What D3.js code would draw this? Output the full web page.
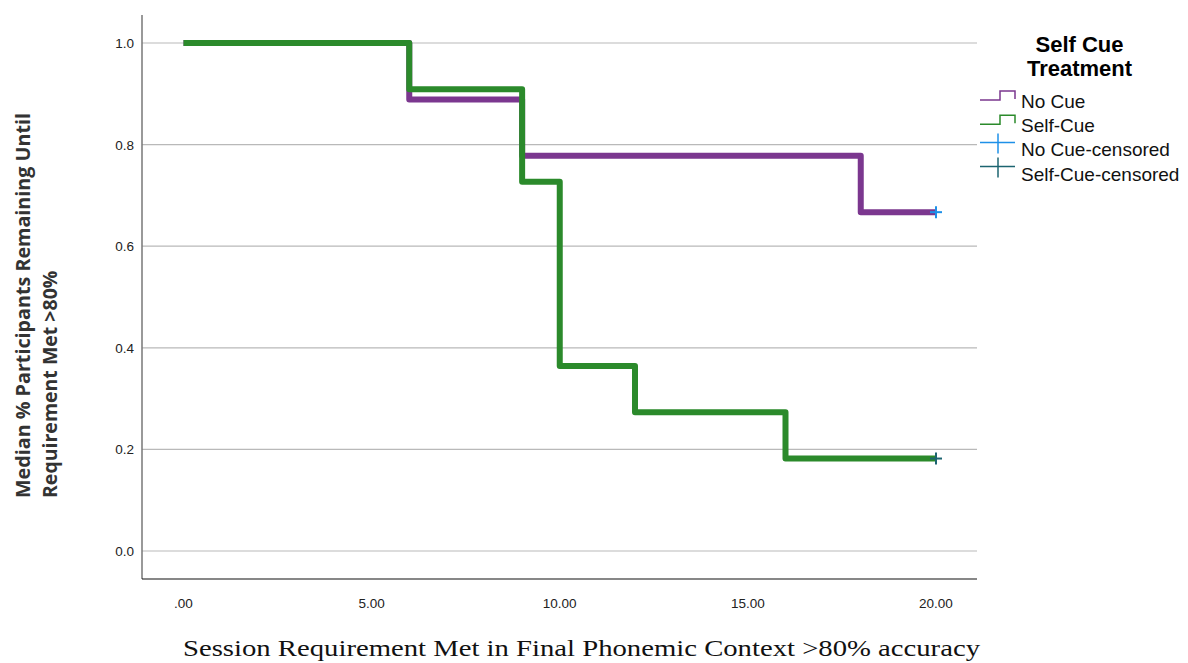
<!DOCTYPE html>
<html>
<head>
<meta charset="utf-8">
<script src="https://cdn.jsdelivr.net/npm/d3@7"></script>
<style>
  body { margin: 0; background: #fff; }
  svg { display: block; }
</style>
</head>
<body>
<div id="chart"></div>
<script>
// step survival curves (time, proportion remaining)
const noCueTimes = [0, 6, 9, 18, 20];
const noCueValues = [1.0, 0.889, 0.778, 0.667, 0.667];
const selfCueTimes = [0, 6, 9, 10, 12, 16, 20];
const selfCueValues = [1.0, 0.909, 0.727, 0.364, 0.273, 0.182, 0.182];
const censored = [
  { group: "No Cue", time: 20, value: 0.667 },
  { group: "Self-Cue", time: 20, value: 0.182 }
];
const xTicks = [0, 5, 10, 15, 20];
const yTicks = [0, 0.2, 0.4, 0.6, 0.8, 1.0];
const legendLabels = ["No Cue", "Self-Cue", "No Cue-censored", "Self-Cue-censored"];

const colors = {
  "No Cue": "#7b378f",
  "Self-Cue": "#2b8a2b",
  "No Cue-censored": "#1e90e8",
  "Self-Cue-censored": "#1c6470"
};

const W = 1188, H = 663;
const svg = d3.select("#chart").append("svg")
  .attr("width", W)
  .attr("height", H);

const x = d3.scaleLinear().domain([0, 20]).range([183.5, 936]);
const y = d3.scaleLinear().domain([0, 1]).range([551, 43]);
const plotLeft = 142, plotRight = 977, plotTop = 15, plotBottom = 579;

// gridlines
svg.append("g")
  .selectAll("line")
  .data(yTicks)
  .join("line")
  .attr("x1", plotLeft).attr("x2", plotRight)
  .attr("y1", d => y(d)).attr("y2", d => y(d))
  .attr("stroke", "#b9b9b9")
  .attr("stroke-width", 1.2);

// axes lines
svg.append("line")
  .attr("x1", plotLeft).attr("x2", plotLeft).attr("y1", plotTop).attr("y2", plotBottom)
  .attr("stroke", "#777").attr("stroke-width", 1.5);
svg.append("line")
  .attr("x1", plotLeft).attr("x2", plotRight).attr("y1", plotBottom).attr("y2", plotBottom)
  .attr("stroke", "#111").attr("stroke-width", 1.2);

// tick labels
svg.append("g")
  .selectAll("text")
  .data(yTicks)
  .join("text")
  .attr("x", 134)
  .attr("y", d => y(d) + 5)
  .attr("text-anchor", "end")
  .style("font-family", "Liberation Sans, Arial, sans-serif")
  .style("font-size", "13.5px")
  .attr("fill", "#222")
  .text(d => d3.format(".1f")(d));

svg.append("g")
  .selectAll("text")
  .data(xTicks)
  .join("text")
  .attr("x", d => x(d))
  .attr("y", 608)
  .attr("text-anchor", "middle")
  .style("font-family", "Liberation Sans, Arial, sans-serif")
  .style("font-size", "13.5px")
  .attr("fill", "#222")
  .text(d => d === 0 ? ".00" : d3.format(".2f")(d));

// step lines
const line = d3.line()
  .x(d => x(d[0]))
  .y(d => y(d[1]))
  .curve(d3.curveStepAfter);

const series = [
  { name: "No Cue", pts: d3.zip(noCueTimes, noCueValues) },
  { name: "Self-Cue", pts: d3.zip(selfCueTimes, selfCueValues) }
];

svg.append("g")
  .selectAll("path")
  .data(series)
  .join("path")
  .attr("d", d => line(d.pts))
  .attr("fill", "none")
  .attr("stroke", d => colors[d.name])
  .attr("stroke-width", 6)
  .attr("stroke-linejoin", "round");

// censored marks
const cg = svg.append("g");
censored.forEach(c => {
  const cx = x(c.time), cy = y(c.value);
  const col = colors[c.group + "-censored"];
  cg.append("line").attr("x1", cx - 6).attr("x2", cx + 6).attr("y1", cy).attr("y2", cy)
    .attr("stroke", col).attr("stroke-width", 2);
  cg.append("line").attr("x1", cx).attr("x2", cx).attr("y1", cy - 6).attr("y2", cy + 6)
    .attr("stroke", col).attr("stroke-width", 2);
});

// axis titles
const yLab = svg.append("text")
  .attr("transform", "translate(0,498) rotate(-90)")
  .attr("text-anchor", "start")
  .style("font-family", "Open Sans, DejaVu Sans, sans-serif")
  .style("font-weight", "bold")
  .style("font-size", "19.5px")
  .attr("fill", "#333");
yLab.append("tspan").attr("x", 0).attr("y", 30)
  .attr("textLength", 385).attr("lengthAdjust", "spacingAndGlyphs")
  .text("Median % Participants Remaining Until");
yLab.append("tspan").attr("x", 0).attr("y", 57).text("Requirement Met >80%");

svg.append("text")
  .attr("x", 581.5)
  .attr("y", 656)
  .attr("text-anchor", "middle")
  .attr("textLength", 797)
  .attr("lengthAdjust", "spacingAndGlyphs")
  .style("font-family", "Liberation Serif, Times New Roman, serif")
  .style("font-size", "24px")
  .attr("fill", "#111")
  .text("Session Requirement Met in Final Phonemic Context >80% accuracy");

// legend
const lg = svg.append("g");
["Self Cue", "Treatment"].forEach((t, i) => {
  lg.append("text").attr("x", 1079.5).attr("y", 52 + i * 24).attr("text-anchor", "middle")
    .style("font-family", "Liberation Sans, Arial, sans-serif")
    .style("font-weight", "bold").style("font-size", "22px").attr("fill", "#000")
    .text(t);
});

legendLabels.forEach((name, i) => {
  const yy = 108 + i * 24.2; // text baseline
  const col = colors[name];
  if (i < 2) {
    lg.append("path")
      .attr("d", `M980,${yy - 8}H1000V${yy - 17}H1015V${yy - 9}`)
      .attr("fill", "none").attr("stroke", col).attr("stroke-width", 1.5);
  } else {
    lg.append("line").attr("x1", 980).attr("x2", 1015).attr("y1", yy - 14).attr("y2", yy - 14)
      .attr("stroke", col).attr("stroke-width", 1.5);
    lg.append("line").attr("x1", 998).attr("x2", 998).attr("y1", yy - 23).attr("y2", yy - 3)
      .attr("stroke", col).attr("stroke-width", 1.5);
  }
  lg.append("text").attr("x", 1021).attr("y", yy)
    .style("font-family", "Liberation Sans, Arial, sans-serif")
    .style("font-size", "19px").attr("fill", "#111")
    .text(name);
});
</script>
</body>
</html>
